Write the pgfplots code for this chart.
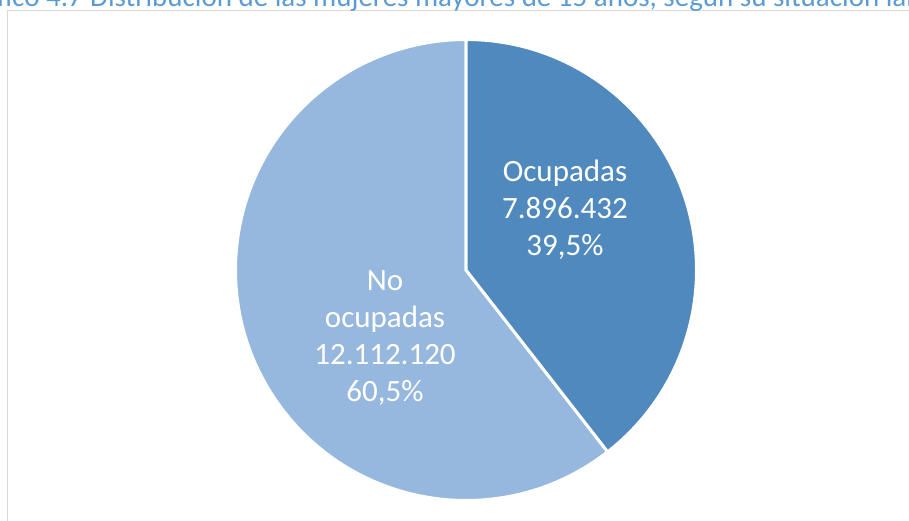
\documentclass[border=0pt]{standalone}
\usepackage{fontspec}
\setmainfont{Carlito}
\usepackage{pgfplots}
\pgfplotsset{compat=1.18}
\usepackage{pgfplotstable}

\definecolor{ocup}{RGB}{79,137,190}
\definecolor{noocup}{RGB}{151,184,222}
\definecolor{titleblue}{RGB}{91,155,213}
\definecolor{framegray}{RGB}{217,217,217}

\pgfplotstableread{
label value
Ocupadas 7896432
NoOcupadas 12112120
}\piedata

\pgfplotstablegetelem{0}{value}\of\piedata \edef\va{\pgfplotsretval}
\pgfplotstablegetelem{1}{value}\of\piedata \edef\vb{\pgfplotsretval}
\edef\endA{\fpeval{90-360*\va/(\va+\vb)}}

\begin{document}
\begin{tikzpicture}
\useasboundingbox (0,0) rectangle (909pt,521pt);
\begin{axis}[
  at={(0,0)}, anchor=south west,
  scale only axis, width=909pt, height=521pt,
  xmin=0, xmax=909, ymin=0, ymax=521,
  hide axis, clip=false,
]
% frame
\draw[framegray, line width=1.5pt] (axis cs:7.5,-20) -- (axis cs:7.5,510.5) -- (axis cs:930,510.5);
% title (cut off at top, as in the reference)
\node[anchor=base west, text=titleblue, font=\fontsize{29}{35}\selectfont, inner sep=0pt] at (axis cs:90,514) {Distribución de las mujeres mayores de 15 años, según su situación laboral};
\node[anchor=base east, text=titleblue, font=\fontsize{29}{35}\selectfont, inner sep=0pt] at (axis cs:83,514) {Gráfico 4.7};
% pie slices
\fill[noocup, draw=white, line width=3pt] (axis cs:466,251) -- (axis cs:{466+230.5*cos(\endA)},{251+230.5*sin(\endA)}) arc[start angle=\endA, end angle=-270, radius=230.5] -- cycle;
\fill[ocup, draw=white, line width=3pt] (axis cs:466,251) -- (axis cs:466,481.5) arc[start angle=90, end angle=\endA, radius=230.5] -- cycle;
% labels
\node[align=center, text=white, font=\fontsize{31}{37}\selectfont] at (axis cs:565,311) {Ocupadas\\7.896.432\\39,5\%};
\node[align=center, text=white, font=\fontsize{31}{37}\selectfont] at (axis cs:385,183) {No\\ocupadas\\12.112.120\\60,5\%};
\end{axis}
\end{tikzpicture}
\end{document}
